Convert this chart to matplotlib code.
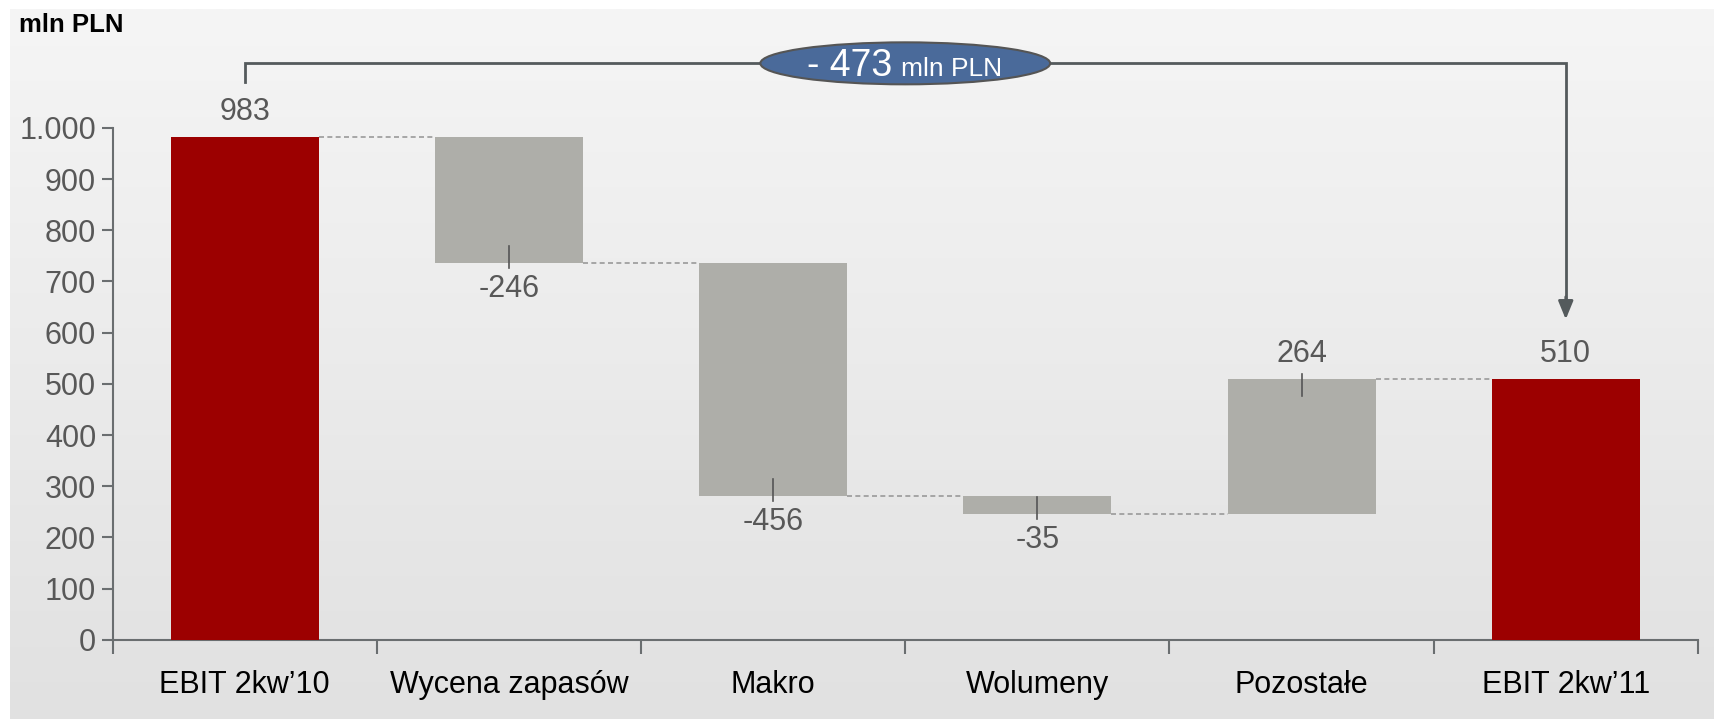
import matplotlib
matplotlib.use("Agg")
import matplotlib.pyplot as plt
import numpy as np
from matplotlib.patches import Ellipse
from matplotlib.ticker import FixedLocator
from matplotlib.colors import LinearSegmentedColormap

plt.rcParams['font.family'] = ['Liberation Sans Narrow', 'Liberation Sans', 'DejaVu Sans']

categories = ["EBIT 2kw\u201910", "Wycena zapasów", "Makro", "Wolumeny", "Pozostałe", "EBIT 2kw\u201911"]
values = [983, -246, -456, -35, 264, 510]
is_total = [True, False, False, False, False, True]
yticks = [0, 100, 200, 300, 400, 500, 600, 700, 800, 900, 1000]
ytick_labels = ["0", "100", "200", "300", "400", "500", "600", "700", "800", "900", "1.000"]
delta_label = "- 473"
unit = "mln PLN"

RED = "#9C0000"
GREY = "#AEAEA9"
TXT = "#585858"
AX = "#6A6E70"

fig = plt.figure(figsize=(17.15, 7.19), dpi=100)
fig.patch.set_facecolor("white")

# gradient panel background
bg = fig.add_axes([0.006, 0.0, 0.994, 0.987])
grad = np.linspace(0, 1, 256).reshape(-1, 1)
cmap = LinearSegmentedColormap.from_list("bg", ["#E1E1E1", "#F5F5F5"])
bg.imshow(grad, aspect="auto", cmap=cmap, origin="lower", extent=[0, 1, 0, 1])
bg.set_axis_off()

ax = fig.add_axes([0.0657, 0.110, 0.9243, 0.819])
ax.set_facecolor("none")

n = len(categories)
x = np.arange(n)
bottoms = []
tops = []
levels = []
running = 0
for v, tot in zip(values, is_total):
    if tot:
        bottoms.append(0)
        tops.append(v)
        running = v
    else:
        new = running + v
        bottoms.append(min(running, new))
        tops.append(max(running, new))
        running = new
    levels.append(running)
bottoms = np.array(bottoms)
tops = np.array(tops)
colors = [RED if t else GREY for t in is_total]
bw = 0.56
ax.bar(x, tops - bottoms, bottom=bottoms, width=bw, color=colors, zorder=3)

# connectors
for i in range(n - 1):
    ax.plot([x[i] + bw / 2, x[i + 1] - bw / 2], [levels[i], levels[i]],
            color="#9A9A9A", lw=1.2, ls=(0, (3, 2)), zorder=2)

# labels and leader ticks
for i, (v, tot) in enumerate(zip(values, is_total)):
    if v >= 0:
        y = tops[i]
        ax.annotate(f"{v}", (x[i], y), xytext=(0, 7), textcoords="offset points",
                    ha="center", va="bottom", fontsize=22, color=TXT)
        if not tot:
            ax.plot([x[i], x[i]], [y + 10, y - 33], color="#555555", lw=1.2, zorder=4)
    else:
        y = bottoms[i]
        ax.annotate(f"{v}", (x[i], y), xytext=(0, -8), textcoords="offset points",
                    ha="center", va="top", fontsize=22, color=TXT)
        ax.plot([x[i], x[i]], [y - 10, y + 33], color="#555555", lw=1.2, zorder=4)

ax.set_xlim(-0.5, n - 0.5)
ax.set_ylim(0, 1150)
ax.set_yticks(yticks)
ax.set_yticklabels(ytick_labels)
ax.set_xticks(x)
ax.set_xticklabels(categories)
ax.xaxis.set_minor_locator(FixedLocator(np.arange(-0.5, n, 1.0)))
ax.tick_params(axis="x", which="major", length=0, pad=22, labelsize=22, labelcolor="black")
ax.tick_params(axis="x", which="minor", length=10, width=1.5, color=AX, direction="out")
ax.tick_params(axis="y", length=8, width=1.5, color=AX, labelsize=22, labelcolor=TXT, pad=4)
for s in ["top", "right"]:
    ax.spines[s].set_visible(False)
for s in ["left", "bottom"]:
    ax.spines[s].set_color(AX)
    ax.spines[s].set_linewidth(1.5)
ax.spines["left"].set_bounds(0, 1000)

# bracket with arrow
yb = 1126
ax.plot([x[0], x[0], x[-1], x[-1]], [1090, yb, yb, 660], color="#545A5C", lw=2,
        clip_on=False, zorder=5, solid_joinstyle="miter")
ax.annotate("", xy=(x[-1], 626), xytext=(x[-1], 670),
            arrowprops=dict(arrowstyle="-|>,head_width=0.45,head_length=1.1",
                            color="#545A5C", lw=2, shrinkA=0, shrinkB=0),
            annotation_clip=False, zorder=5)

ell = Ellipse((2.5, yb), width=1.097, height=82, facecolor="#4A6A9A",
              edgecolor="#555555", lw=1.5, clip_on=False, zorder=6)
ax.add_patch(ell)
ax.text(2.45, 1102, delta_label, ha="right", va="baseline", fontsize=27,
        color="white", zorder=7, clip_on=False)
ax.text(2.485, 1102, unit, ha="left", va="baseline", fontsize=19,
        color="white", zorder=7, clip_on=False)

fig.text(0.011, 0.982, unit, ha="left", va="top", fontsize=18.5, fontweight="bold",
         color="black", family=["Liberation Sans", "DejaVu Sans"])

fig.savefig("out.png", dpi=100, facecolor=fig.get_facecolor())
